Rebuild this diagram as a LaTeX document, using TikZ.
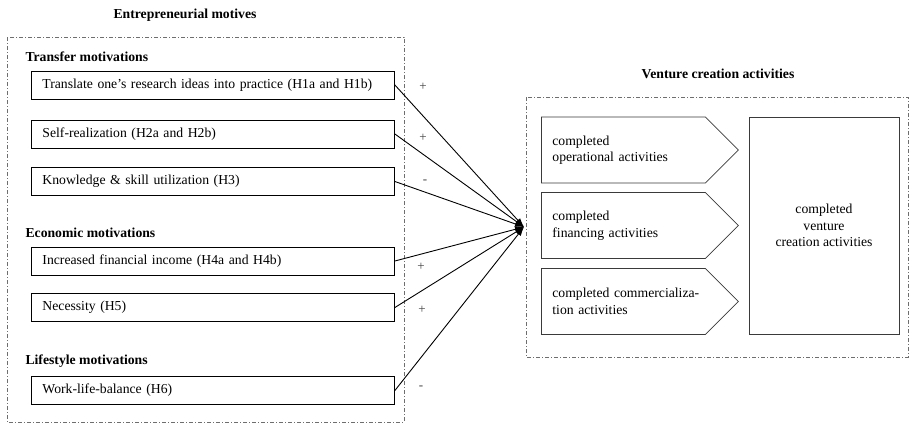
\documentclass[tikz,border=0pt]{standalone}
\usepackage{fontspec}
\setmainfont{Liberation Serif}
\usetikzlibrary{arrows.meta,shapes.symbols}
\definecolor{framegray}{HTML}{6E6E6E}
\definecolor{edgegray}{HTML}{3A3A3A}
\begin{document}
\begin{tikzpicture}[x=1pt, y=-1pt, every node/.style={font=\fontsize{13.7}{16.5}\selectfont}]
  \tikzset{
    head/.style={font=\fontsize{13.7}{16.5}\selectfont\bfseries},
    motive/.style={draw, line width=0.9pt, anchor=west, minimum width=363pt, minimum height=28pt, text width=341pt, inner xsep=11pt, align=left},
    activity/.style={draw=edgegray, line width=0.8pt, signal, signal to=east, signal pointer angle=90, anchor=west, minimum height=66pt, text width=142pt, inner xsep=11pt, align=left},
    frame/.style={draw=framegray, line width=0.8pt, dash pattern=on 4pt off 2pt on 1pt off 2pt},
    link/.style={-{Latex[length=9pt, width=6pt]}, line width=0.9pt},
    sign/.style={font=\fontsize{13}{15}\selectfont, text=black!75}
  }
  \useasboundingbox (0,0) rectangle (911,426);
  % motives
  \node[head] (title) at (185,15) {Entrepreneurial motives};
  \draw[frame] (7,37) rectangle (404,422);
  \node[head, anchor=west] (transfer) at (22,57) {Transfer motivations};
  \node[motive] (m1) at (31,85) {Translate one's research ideas into practice (H1a and H1b)};
  \node[motive] (m2) at (31,134) {Self-realization (H2a and H2b)};
  \node[motive] (m3) at (31,181.5) {Knowledge \& skill utilization (H3)};
  \node[head, anchor=west] (economic) at (22,233) {Economic motivations};
  \node[motive] (m4) at (31,261) {Increased financial income (H4a and H4b)};
  \node[motive] (m5) at (31,307.5) {Necessity (H5)};
  \node[head, anchor=west] (lifestyle) at (22,361) {Lifestyle motivations};
  \node[motive] (m6) at (31,390.5) {Work-life-balance (H6)};
  % venture creation
  \node[head] (venture) at (718,74) {Venture creation activities};
  \draw[frame] (526,97) rectangle (908,357);
  \node[activity] (a1) at (541,150) {completed\\operational activities};
  \node[activity] (a2) at (541,225.5) {completed\\financing activities};
  \node[activity] (a3) at (541,301.5) {\mbox{completed commercializa-}\\tion activities};
  \node[draw=edgegray, line width=0.8pt, minimum width=150pt, minimum height=217pt, align=center] (total) at (824,225.5) {completed\\venture\\creation activities};
  % hypotheses
  \coordinate (hub) at (524,227);
  \foreach \m in {m1,m2,m3,m4,m5,m6}
    \draw[link] (\m.east) -- (hub);
  \node[sign] (s1) at (423,87) {+};
  \node[sign] (s2) at (423,138) {+};
  \node[sign] (s3) at (425,182) {-};
  \node[sign] (s4) at (421,267) {+};
  \node[sign] (s5) at (422,310) {+};
  \node[sign] (s6) at (421,388) {-};
\end{tikzpicture}
\end{document}
